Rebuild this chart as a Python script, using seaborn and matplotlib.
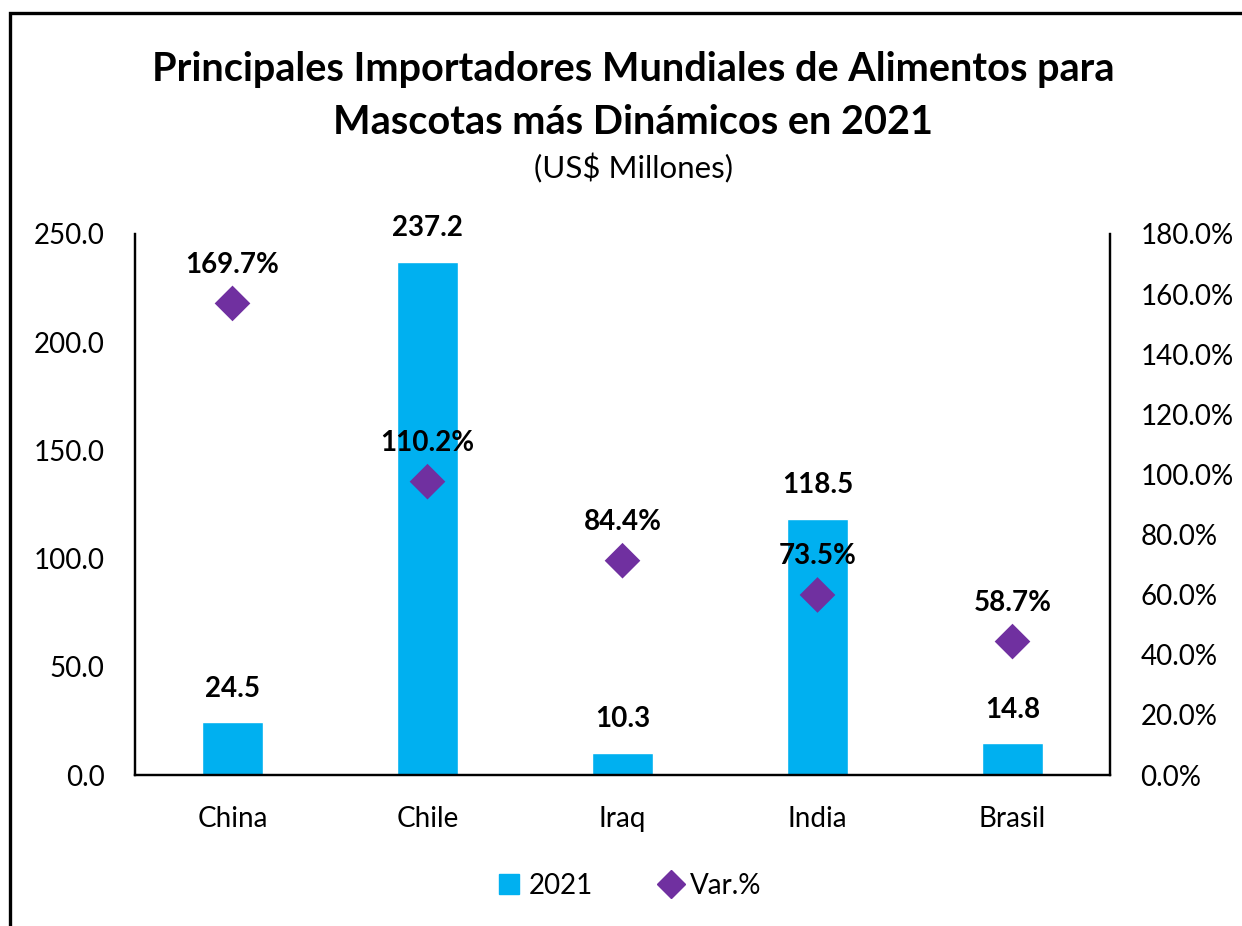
import numpy as np
import pandas as pd

import matplotlib as mpl
import matplotlib.pyplot as plt
from matplotlib.lines import Line2D
from matplotlib.patches import Rectangle

import seaborn as sns

sns.set_theme(style="white")

mpl.rcParams["font.family"] = ["Lato", "DejaVu Sans"]
mpl.rcParams["text.color"] = "black"
mpl.rcParams["xtick.color"] = "black"
mpl.rcParams["ytick.color"] = "black"

BAR_COLOR = "#00B0F0"
MARKER_COLOR = "#7030A0"

# --------------------------------------------------
# Data
# --------------------------------------------------

countries = ["China", "Chile", "Iraq", "India", "Brasil"]
imports_2021 = [24.5, 237.2, 10.3, 118.5, 14.8]

# marker positions
var_pct = [156.9, 97.6, 71.3, 59.9, 44.4]
# labels as printed in the chart
var_labels = ["169.7%", "110.2%", "84.4%", "73.5%", "58.7%"]

left_ticks = [0, 50, 100, 150, 200, 250]
right_ticks = [0, 20, 40, 60, 80, 100, 120, 140, 160, 180]

df = pd.DataFrame({
    "pais": countries,
    "valor": imports_2021,
    "var": var_pct
})

# --------------------------------------------------
# Figure
# --------------------------------------------------

fig = plt.figure(figsize=(12.42, 9.26), dpi=100)

ax = fig.add_axes([135 / 1242, 1 - 775 / 926, 975 / 1242, 541 / 926])

sns.barplot(
    data=df,
    x="pais",
    y="valor",
    color=BAR_COLOR,
    width=0.31,
    saturation=1,
    ax=ax
)

ax.set_xlim(-0.5, 4.5)
ax.set_ylim(0, 250)
ax.set_yticks(left_ticks)
ax.set_yticklabels([f"{t:.1f}" for t in left_ticks])

# bar value labels
for i, value in enumerate(imports_2021):
    ax.annotate(
        f"{value:.1f}",
        (i, value),
        xytext=(0, 24),
        textcoords="offset points",
        ha="center",
        va="center",
        fontsize=20,
        fontweight="bold",
        color="black"
    )

ax2 = ax.twinx()

sns.scatterplot(
    data=df,
    x="pais",
    y="var",
    marker="D",
    s=330,
    color=MARKER_COLOR,
    edgecolor="none",
    ax=ax2
)

ax2.set_ylim(0, 180)
ax2.set_yticks(right_ticks)
ax2.set_yticklabels([f"{t:.1f}%" for t in right_ticks])
ax2.set_ylabel("")

for i, (value, label) in enumerate(zip(var_pct, var_labels)):
    ax2.annotate(
        label,
        (i, value),
        xytext=(0, 28),
        textcoords="offset points",
        ha="center",
        va="center",
        fontsize=20,
        fontweight="bold",
        color="black"
    )

for a in (ax, ax2):
    a.spines["top"].set_visible(False)
    a.spines["left"].set_visible(True)
    a.spines["right"].set_visible(True)
    a.spines["bottom"].set_visible(True)
    for s in ("left", "right", "bottom"):
        a.spines[s].set_color("black")
        a.spines[s].set_linewidth(1.6)
    a.tick_params(length=0, labelsize=20, colors="black")
    a.grid(False)

ax.tick_params(axis="y", pad=22)
ax.tick_params(axis="x", pad=22)
ax2.tick_params(axis="y", pad=22)

ax.set_xlabel("")
ax.set_ylabel("")
ax2.set_xlabel("")

# --------------------------------------------------
# Titles
# --------------------------------------------------

title_x = 633 / 1242

fig.text(
    title_x, 1 - 70 / 926,
    "Principales Importadores Mundiales de Alimentos para",
    ha="center", va="center",
    fontsize=28.5, fontweight="bold", color="black"
)

fig.text(
    title_x, 1 - 122 / 926,
    "Mascotas más Dinámicos en 2021",
    ha="center", va="center",
    fontsize=28.5, fontweight="bold", color="black"
)

fig.text(
    title_x, 1 - 168 / 926,
    "(US$ Millones)",
    ha="center", va="center",
    fontsize=22.5, color="black"
)

# --------------------------------------------------
# Legend
# --------------------------------------------------

handles = [
    Line2D([], [], marker="s", linestyle="none",
           markersize=14, color=BAR_COLOR, label="2021"),
    Line2D([], [], marker="D", linestyle="none",
           markersize=14, color=MARKER_COLOR, label="Var.%")
]

fig.legend(
    handles=handles,
    loc="center",
    bbox_to_anchor=(630 / 1242, 1 - 886 / 926),
    ncol=2,
    frameon=False,
    fontsize=20,
    handlelength=0.8,
    handletextpad=0.3,
    columnspacing=2.4
)

# outer frame
fig.patches.append(
    Rectangle(
        (10 / 1242, -0.1),
        2,
        (926 - 13) / 926 + 0.1,
        transform=fig.transFigure,
        fill=False,
        edgecolor="black",
        linewidth=2.4
    )
)

fig.savefig("out.png", dpi=100)
plt.close()
